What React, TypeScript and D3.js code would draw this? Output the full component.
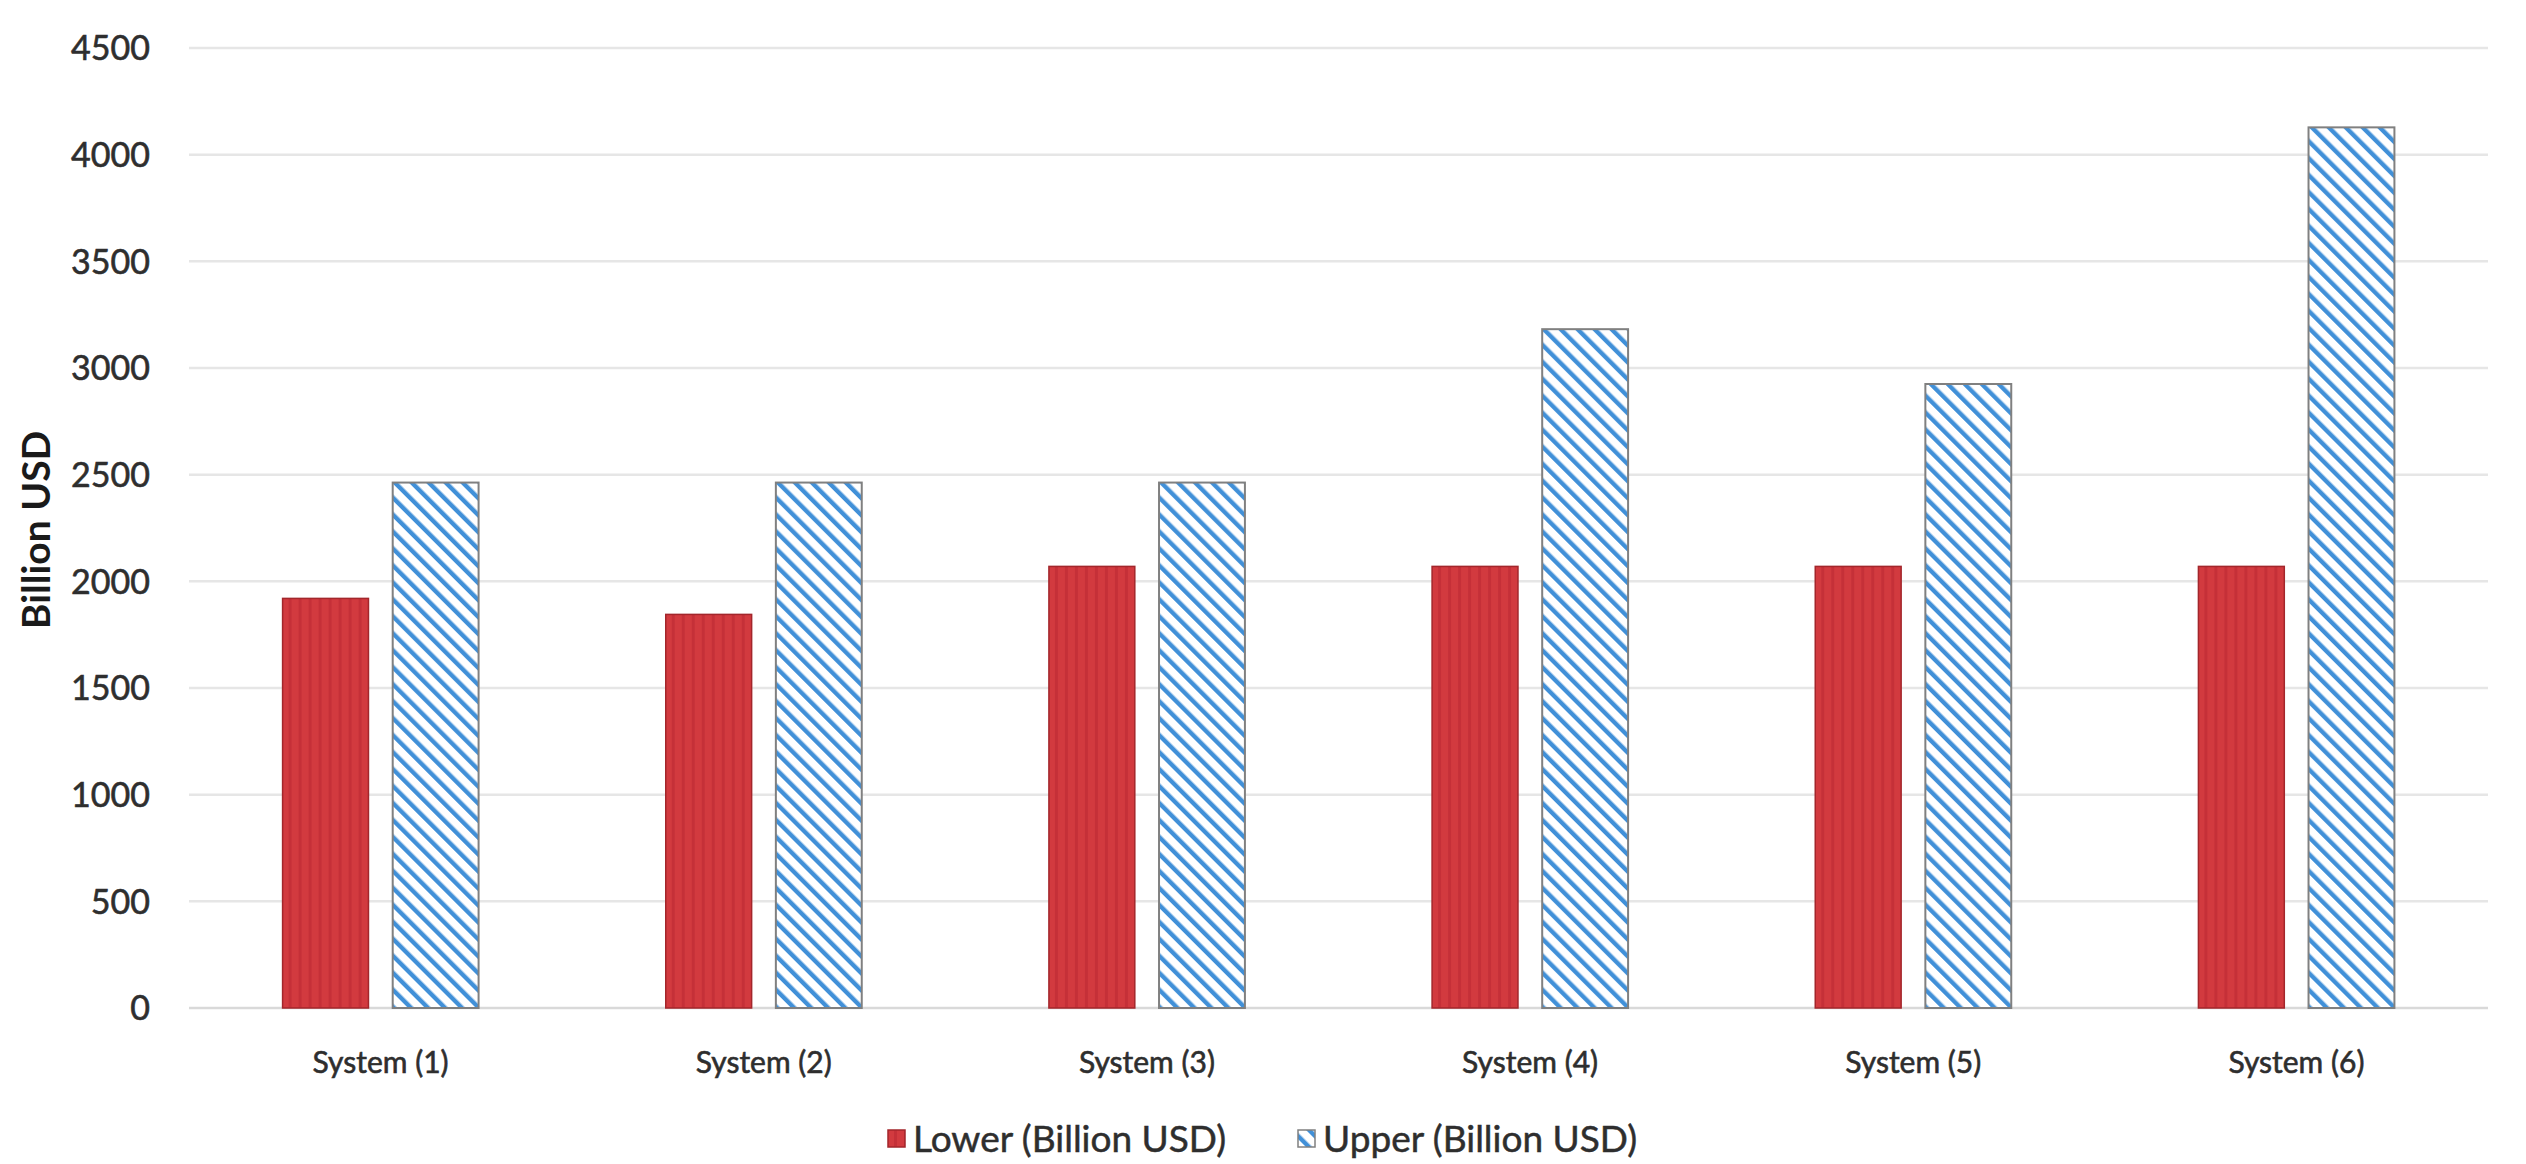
import React, { useRef, useEffect } from "react";
import * as d3 from "d3";

const categories = ["System (1)", "System (2)", "System (3)", "System (4)", "System (5)", "System (6)"];
const lowerValues = [1920, 1845, 2070, 2070, 2070, 2070];
const upperValues = [2463, 2463, 2463, 3182, 2925, 4128];
const yTicks = [0, 500, 1000, 1500, 2000, 2500, 3000, 3500, 4000, 4500];
const seriesNames = ["Lower (Billion USD)", "Upper (Billion USD)"];

const width = 2526;
const height = 1164;
const font = "Lato, 'Open Sans', sans-serif";

const App = () => {
  const canvas = useRef<SVGSVGElement>(null);

  useEffect(() => {
    const svg = d3.select(canvas.current);
    svg.selectAll("*").remove();

    const defs = svg.append("defs");

    // red fill with faint vertical texture
    const red = defs.append("pattern")
      .attr("id", "redfill")
      .attr("patternUnits", "userSpaceOnUse")
      .attr("width", 10).attr("height", 10);
    red.append("rect").attr("width", 10).attr("height", 10).attr("fill", "#d23a3f");
    red.append("rect").attr("x", 6).attr("width", 3).attr("height", 10).attr("fill", "#c53038");

    // blue diagonal hatch
    const hatch = defs.append("pattern")
      .attr("id", "hatch")
      .attr("patternUnits", "userSpaceOnUse")
      .attr("width", 12).attr("height", 12)
      .attr("patternTransform", "rotate(-45)");
    hatch.append("rect").attr("width", 12).attr("height", 12).attr("fill", "#ffffff");
    hatch.append("rect").attr("width", 4.4).attr("height", 12).attr("fill", "#4190d8");

    const yScale = d3.scaleLinear().domain([0, 4500]).range([1008, 48]);
    const x0 = d3.scaleBand().domain(categories).range([189, 2488]).padding(0);
    const x1 = d3.scaleBand().domain(["lower", "upper"]).range([0, 196]).paddingInner(0.22);

    // gridlines
    svg.append("g")
      .selectAll("line")
      .data(yTicks)
      .join("line")
      .attr("x1", 189).attr("x2", 2488)
      .attr("y1", d => yScale(d)).attr("y2", d => yScale(d))
      .attr("stroke", d => d === 0 ? "#d9d9d9" : "#e6e6e6")
      .attr("stroke-width", 2.5);

    // y tick labels
    svg.append("g")
      .selectAll("text")
      .data(yTicks)
      .join("text")
      .attr("x", 150)
      .attr("y", d => yScale(d))
      .attr("dy", "0.36em")
      .attr("text-anchor", "end")
      .style("font-family", font)
      .style("font-size", "34px")
      .style("fill", "#2e2e2e")
      .style("stroke", "#2e2e2e")
      .style("stroke-width", 0.6)
      .text(d => d);

    // y title
    svg.append("text")
      .attr("transform", "translate(36,530) rotate(-90)")
      .attr("text-anchor", "middle")
      .attr("dy", "0.36em")
      .style("font-family", font)
      .style("font-size", "39px")
      .style("font-weight", "bold")
      .style("fill", "#1a1a1a")
      .text("Billion USD");

    const groups = svg.append("g")
      .selectAll("g")
      .data(categories)
      .join("g")
      .attr("transform", d => "translate(" + (x0(d)! + x0.bandwidth() / 2 - 98) + ",0)");

    groups.append("rect")
      .attr("x", x1("lower")!)
      .attr("width", x1.bandwidth())
      .attr("y", (d, i) => yScale(lowerValues[i]))
      .attr("height", (d, i) => yScale(0) - yScale(lowerValues[i]))
      .attr("fill", "url(#redfill)")
      .attr("stroke", "#a3262b")
      .attr("stroke-width", 1.5);

    groups.append("rect")
      .attr("x", x1("upper")!)
      .attr("width", x1.bandwidth())
      .attr("y", (d, i) => yScale(upperValues[i]))
      .attr("height", (d, i) => yScale(0) - yScale(upperValues[i]))
      .attr("fill", "url(#hatch)")
      .attr("stroke", "#808080")
      .attr("stroke-width", 2);

    // category labels
    svg.append("g")
      .selectAll("text")
      .data(categories)
      .join("text")
      .attr("x", d => x0(d)! + x0.bandwidth() / 2)
      .attr("y", 1062)
      .attr("dy", "0.36em")
      .attr("text-anchor", "middle")
      .style("font-family", font)
      .style("font-size", "30px")
      .style("fill", "#2e2e2e")
      .style("stroke", "#2e2e2e")
      .style("stroke-width", 0.6)
      .text(d => d);

    // legend
    const legendX = [888, 1298];
    const legend = svg.append("g")
      .selectAll("g")
      .data(seriesNames)
      .join("g")
      .attr("transform", (d, i) => "translate(" + legendX[i] + ",1139)");
    legend.append("rect")
      .attr("x", 0).attr("y", -9)
      .attr("width", 17).attr("height", 17)
      .attr("fill", (d, i) => i === 0 ? "url(#redfill)" : "url(#hatch)")
      .attr("stroke", (d, i) => i === 0 ? "#a3262b" : "#808080")
      .attr("stroke-width", 1.5);
    legend.append("text")
      .attr("x", 25)
      .attr("dy", "0.36em")
      .style("font-family", font)
      .style("font-size", "37px")
      .style("fill", "#2e2e2e")
      .style("stroke", "#2e2e2e")
      .style("stroke-width", 0.5)
      .text(d => d);
  }, []);

  return (
    <svg ref={canvas} width={width} height={height}
      style={{ position: "absolute", left: 0, top: 0, background: "#fff" }} />
  );
};

export default App;
